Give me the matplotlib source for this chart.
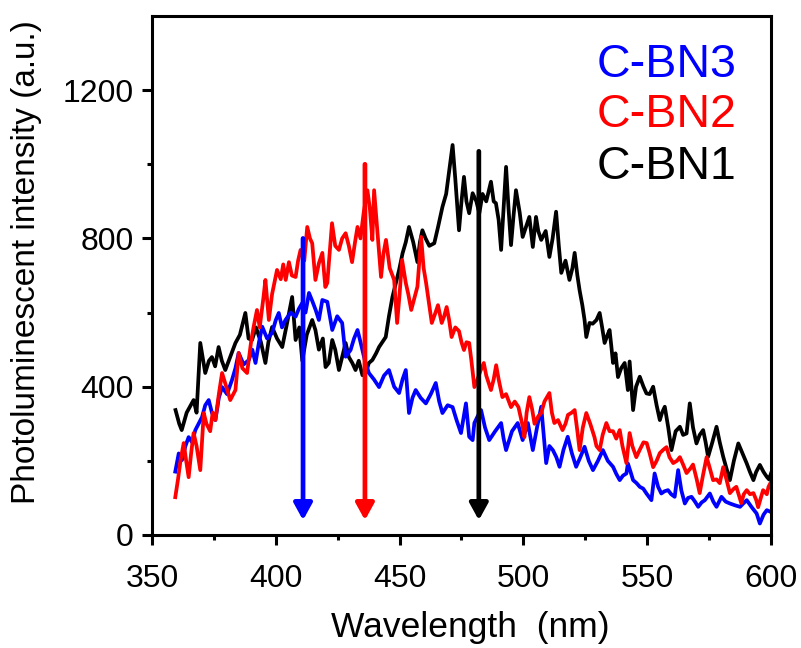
import numpy as np
import matplotlib
matplotlib.use("Agg")
import matplotlib.pyplot as plt

# C-BN1 (black)
bn1_x = [359.5, 361, 362, 364, 366.8, 368, 369.5, 371.5, 373, 374.2, 375.5, 376.9, 378.2, 379.6, 381,
         383.7, 385.5, 387.7, 389, 390.4, 392, 394, 395.8, 397, 398.5, 400.5, 402.6, 404.5, 406.6, 408,
         409.5, 410.7, 412.5, 414.7, 416, 417.4, 419, 420.1, 421.4, 422.8, 424, 425.5, 426.8, 428.2, 429.5,
         430.9, 432.2, 433.5, 435, 436.3, 437.6, 439, 440.5, 441.7, 443, 444.4, 445.7, 447.1, 448.5, 449.8,
         451.2, 452.5, 453.8, 455.5, 457.2, 458.2, 459.2, 460.5, 462, 464, 465.5, 467.3, 468.8, 470, 471.4,
         472.5, 474, 475, 476, 477, 478.1, 479.5, 481, 482.2, 483.5, 485, 486.9, 488, 488.9, 490,
         491, 492, 493, 494, 495, 496, 497, 498.5, 499.7, 501, 502.4, 503.8, 505.1, 506, 507.2,
         509, 510.5, 511.8, 513.2, 514.3, 515.3, 517, 518.6, 519.8, 520.7, 521.8, 522.7, 523.8, 524.7, 525.4,
         526.7, 528, 529.5, 530.8, 531.8, 532.8, 534, 534.8, 535.5, 536.2, 537.2, 538.2, 539.5, 540.9, 542.2,
         542.9, 544.3, 545.5, 547, 548.5, 549.7, 551, 552.4, 553.8, 555.1, 556, 557.1, 558.5, 559.8, 561.5,
         563.2, 564.5, 565.9, 567.2, 568.5, 569.9, 571.2, 572.6, 573.6, 574.6, 576.3, 578, 579.3, 580.7, 582,
         583.4, 585, 586.8, 588.5, 590.2, 591.5, 592.9, 594, 595.5, 597, 598.3, 599.2, 600]
bn1_y = [337, 300, 283, 330, 364, 330, 518, 437, 470, 480, 455, 507, 470, 445, 470,
         518, 540, 599, 530, 526, 560, 520, 464, 520, 561, 530, 507, 570, 642, 526,
         560, 470, 540, 580, 553, 500, 530, 453, 464, 526, 500, 445, 480, 518, 480,
         464, 445, 470, 431, 437, 464, 472, 490, 507, 520, 534, 590, 642, 680, 715,
         760, 790, 831, 790, 736, 790, 822, 800, 780, 787, 830, 885, 920, 980, 1052,
         960, 822, 900, 966, 900, 868, 922, 900, 868, 920, 900, 953, 900, 895, 850,
         769, 880, 993, 880, 782, 860, 930, 870, 804, 830, 858, 777, 858, 820, 796,
         820, 750, 800, 872, 780, 707, 740, 688, 720, 761, 700, 660, 620, 580, 534,
         572, 570, 580, 599, 560, 518, 540, 553, 510, 464, 490, 426, 450, 464, 391,
         468, 337, 400, 427, 400, 382, 380, 400, 350, 310, 330, 346, 290, 229, 280,
         292, 270, 274, 355, 290, 247, 270, 283, 250, 211, 250, 292, 250, 211, 180,
         148, 200, 247, 220, 193, 170, 148, 170, 189, 170, 157, 150, 166]

# C-BN2 (red)
bn2_x = [359.4, 360.5, 361.5, 362.8, 363.8, 364.8, 365.8, 366.8, 368, 369.5, 370.9, 372, 373.5, 374.5, 375.6,
         377, 378.3, 380, 381.6, 383.7, 385, 386.5, 388.4, 390, 391, 392.4, 393.5, 395, 395.8, 397.2,
         398.5, 400.5, 402, 403, 404, 405.3, 406.5, 408, 409, 410, 411.5, 412.7, 413.8, 414.7, 416,
         417.4, 418.8, 420, 420.8, 422.7, 424, 425.5, 426.8, 428.2, 429.5, 430.8, 432, 433, 434.2, 435.5,
         437, 438, 439, 439.7, 441, 442.5, 443.5, 444.5, 446, 447.8, 449, 450, 451, 452.5, 453.5,
         454.7, 456, 457.2, 458.7, 459.7, 460.7, 462, 463, 464.5, 465.5, 467, 468, 469, 470, 471,
         472.5, 474, 475, 476, 477, 478.1, 479, 480.2, 481.5, 482.5, 484, 485, 486.9, 488, 489,
         490, 491.5, 493, 495, 496.5, 498, 499.5, 500.4, 501.3, 502.4, 503.5, 504.5, 506, 507.2, 508.5,
         510.5, 511.5, 512.5, 514, 515.8, 517, 518, 519.5, 520.7, 521.8, 522.7, 524, 525.4, 527, 528.7,
         529.5, 530.8, 532, 533.5, 534.8, 536.2, 537.5, 538.9, 540, 541.6, 542.9, 544, 545.6, 547, 548.5,
         549.8, 551, 552.4, 553.8, 555.1, 556.5, 557.8, 559, 560.5, 562, 563.2, 564.5, 565.9, 567.5, 568.5,
         570, 571.2, 572.5, 574, 575.3, 576.6, 578, 579.3, 580.7, 582, 583.4, 585, 586, 588, 589,
         590.2, 591.5, 592.9, 594, 594.8, 596.8, 598.3, 599, 600]
bn2_y = [102, 150, 200, 248, 200, 156, 220, 275, 240, 175, 329, 300, 280, 330, 310,
         380, 437, 400, 364, 391, 491, 450, 437, 520, 560, 607, 560, 640, 688, 580,
         650, 715, 690, 730, 688, 736, 700, 696, 740, 769, 740, 831, 800, 787, 688,
         733, 761, 669, 680, 841, 780, 769, 800, 814, 780, 736, 790, 831, 800, 870,
         930, 880, 796, 930, 820, 696, 760, 796, 720, 688, 572, 650, 742, 680, 650,
         607, 640, 670, 804, 720, 680, 620, 572, 600, 620, 572, 590, 615, 580, 534,
         560, 550, 520, 499, 520, 518, 470, 399, 420, 440, 464, 430, 391, 420, 458,
         420, 372, 380, 345, 360, 345, 300, 264, 330, 372, 340, 300, 320, 329, 360,
         383, 330, 302, 310, 283, 300, 324, 330, 337, 280, 229, 290, 329, 300, 264,
         240, 229, 270, 302, 280, 280, 260, 283, 240, 194, 275, 240, 210, 230, 250,
         248, 220, 183, 200, 221, 230, 237, 210, 194, 200, 210, 190, 167, 180, 190,
         150, 113, 160, 210, 180, 148, 150, 140, 183, 150, 113, 125, 130, 86, 110,
         121, 110, 113, 95, 75, 121, 110, 130, 143]

# C-BN3 (blue)
bn3_x = [359.4, 360.8, 362.1, 363.5, 364.8, 366.2, 367.5, 368.8, 370.2, 371.5, 372.9, 374.2, 375.6, 377, 378.3,
         380.3, 382.3, 383.7, 385, 387, 389.1, 390.5, 391.8, 393.2, 394.5, 396.5, 398.5, 400, 401.2, 402.5,
         403.9, 406, 408, 409.3, 410.7, 412, 413.4, 414.8, 416.1, 417.4, 418.8, 420.8, 422.8, 424.8, 426.8,
         428.2, 430.2, 431.6, 433, 434.3, 436, 437.6, 439.6, 441.7, 443.7, 445.7, 447.8, 449.8, 451.2, 452.5,
         453.8, 455.2, 456.5, 458.5, 460.6, 462.6, 464.6, 466, 467.3, 469.4, 471.4, 473, 474.8, 476.8, 478.1,
         479.5, 480.2, 481.5, 482.9, 484.5, 486.2, 488.6, 491, 492, 493, 495.4, 497.7, 499.7, 501.8, 503.8,
         505.5, 507.2, 509.2, 510.5, 511.9, 513.3, 514.6, 516.2, 517.9, 519.6, 521.3, 523, 524.7, 526.4, 528.1,
         530.1, 532.1, 534.1, 536.2, 537.5, 538.9, 540.2, 541.6, 542.2, 543.3, 544.3, 545.7, 547, 548.4, 549.7,
         551.7, 553, 554.4, 555.7, 557, 558.4, 559.7, 561.1, 562.5, 563.8, 565.2, 566.5, 567.9, 569.3, 570.6,
         572, 573.3, 575.3, 576.7, 578, 580, 581.7, 583.4, 585.5, 587.5, 588.8, 590.2, 592.2, 594.2, 595.5,
         597, 598.3, 600]
bn3_y = [171, 220, 202, 240, 264, 250, 283, 300, 318, 350, 364, 330, 310, 370, 399,
         380, 418, 450, 491, 460, 472, 500, 464, 520, 562, 530, 545, 580, 599, 560,
         580, 600, 589, 610, 626, 600, 653, 630, 607, 580, 634, 629, 553, 590, 572,
         481, 499, 530, 553, 518, 470, 437, 420, 399, 430, 445, 400, 383, 420, 445,
         329, 370, 391, 370, 355, 380, 410, 360, 329, 350, 345, 310, 275, 355, 265,
         256, 302, 320, 337, 290, 256, 280, 302, 260, 229, 280, 302, 256, 302, 229,
         290, 346, 194, 240, 229, 210, 184, 230, 265, 220, 184, 210, 238, 200, 175,
         200, 229, 200, 184, 165, 148, 160, 166, 193, 170, 148, 140, 130, 125, 112,
         94, 166, 130, 112, 118, 121, 110, 103, 175, 120, 85, 100, 103, 90, 76,
         88, 94, 112, 90, 76, 103, 90, 85, 80, 76, 85, 94, 75, 58, 31,
         55, 67, 62]

# peak arrows: x position, top value
arrow_x = [411, 436, 482]
arrow_top = [800, 1000, 1035]
arrow_colors = ["#0000ff", "#ff0000", "#000000"]

labels = ["C-BN3", "C-BN2", "C-BN1"]

plt.rcParams['font.family'] = ['Liberation Sans', 'DejaVu Sans']

fig = plt.figure(figsize=(8.01, 6.48), dpi=100)
ax = fig.add_axes([152/801, 1 - 535/648, (771 - 152)/801, (535 - 16)/648])

ax.plot(bn1_x, bn1_y, color="black", lw=2.7)
ax.plot(bn3_x, bn3_y, color="#0000ff", lw=2.7)
ax.plot(bn2_x, bn2_y, color="#ff0000", lw=2.7)

for xa, top, c in zip(arrow_x, arrow_top, arrow_colors):
    ax.annotate("", xy=(xa, 40), xytext=(xa, top),
                arrowprops=dict(arrowstyle="-|>,head_length=1.0,head_width=0.55",
                                color=c, lw=3.4, shrinkA=0, shrinkB=0))

ax.set_xlim(350, 600)
ax.set_ylim(0, 1400)
ax.set_xticks([350, 400, 450, 500, 550, 600])
ax.set_xticks([375, 425, 475, 525, 575], minor=True)
ax.set_yticks([0, 400, 800, 1200])
ax.set_yticks([200, 600, 1000], minor=True)

for s in ax.spines.values():
    s.set_linewidth(2.2)
ax.tick_params(which="major", direction="out", length=7, width=2.2, labelsize=23)
ax.tick_params(which="minor", direction="out", length=3.5, width=2.2)
ax.tick_params(axis="x", which="major", pad=14)
ax.tick_params(axis="y", which="major", pad=6)

ax.set_xlabel("Wavelength  (nm)", fontsize=25.5, va="center")
ax.set_ylabel("Photoluminescent intensity (a.u.)", fontsize=24, va="center")
ax.xaxis.set_label_coords(0.514, -0.178)
ax.yaxis.set_label_coords(-0.203, 0.525)

ys = [0.905, 0.81, 0.71]
for lab, c, yy in zip(labels, arrow_colors, ys):
    ax.text(0.718, yy, lab, color=c, fontsize=33.5, transform=ax.transAxes, va="center", ha="left")

fig.savefig("out.png", dpi=100)
